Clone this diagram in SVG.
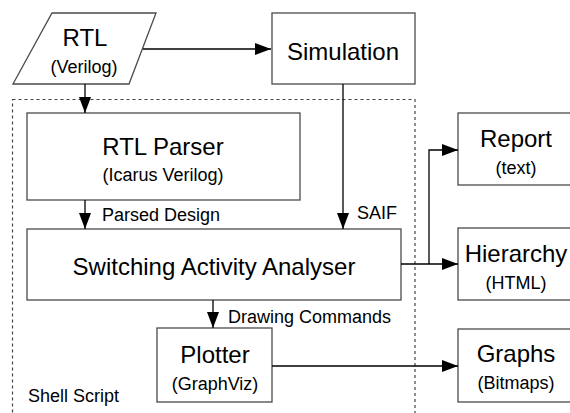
<svg xmlns="http://www.w3.org/2000/svg" width="570" height="413" viewBox="0 0 570 413">
<style>
.box{fill:#fff;stroke:#4a4a4a;stroke-width:1.3}
.edge{fill:none;stroke:#000;stroke-width:1.3}
.big{font-family:"Liberation Sans",Arial,sans-serif;font-size:24px;fill:#000;text-anchor:middle}
.small{font-family:"Liberation Sans",Arial,sans-serif;font-size:18px;fill:#000;text-anchor:middle}
.lbl{font-family:"Liberation Sans",Arial,sans-serif;font-size:18px;fill:#000}
</style>
<defs>
<marker id="arr" markerUnits="userSpaceOnUse" markerWidth="17" markerHeight="12" refX="16" refY="6" orient="auto">
<path d="M0,0 L16,6 L0,12 z" fill="#000"/>
</marker>
</defs>
<rect x="0" y="0" width="570" height="413" fill="#fff"/>
<g id="shell">
<rect x="12.5" y="99.5" width="402.5" height="330" fill="none" stroke="#444" stroke-width="1.2" stroke-dasharray="3,3"/>
<text class="lbl" x="28" y="402">Shell Script</text>
</g>
<g id="rtl">
<polygon class="box" points="52,13 156,13 129,84 13,84"/>
<text class="big" x="85" y="46">RTL</text>
<text class="small" x="84" y="73">(Verilog)</text>
</g>
<g id="simulation">
<rect class="box" x="272" y="13" width="143" height="71"/>
<text class="big" x="343" y="60">Simulation</text>
</g>
<g id="parser">
<rect class="box" x="27" y="113" width="273" height="87"/>
<text class="big" x="163" y="155">RTL Parser</text>
<text class="small" x="163" y="181">(Icarus Verilog)</text>
</g>
<g id="analyser">
<rect class="box" x="27" y="229" width="374" height="71"/>
<text class="big" x="214" y="275">Switching Activity Analyser</text>
</g>
<g id="plotter">
<rect class="box" x="157" y="328" width="115" height="74"/>
<text class="big" x="215" y="363">Plotter</text>
<text class="small" x="215" y="390">(GraphViz)</text>
</g>
<g id="report">
<rect class="box" x="458" y="113" width="116" height="72"/>
<text class="big" x="516" y="147">Report</text>
<text class="small" x="516" y="174">(text)</text>
</g>
<g id="hierarchy">
<rect class="box" x="458" y="228" width="116" height="72"/>
<text class="big" x="516" y="262">Hierarchy</text>
<text class="small" x="516" y="289">(HTML)</text>
</g>
<g id="graphs">
<rect class="box" x="458" y="329" width="116" height="73"/>
<text class="big" x="516" y="362">Graphs</text>
<text class="small" x="516" y="389">(Bitmaps)</text>
</g>
<g id="connectors">
<path class="edge" d="M143,49 H271" marker-end="url(#arr)"/>
<path class="edge" d="M85,84 V113" marker-end="url(#arr)"/>
<path class="edge" d="M85,200 V229" marker-end="url(#arr)"/>
<text class="lbl" x="102" y="221">Parsed Design</text>
<path class="edge" d="M343,84 V229" marker-end="url(#arr)"/>
<text class="lbl" x="357" y="219">SAIF</text>
<path class="edge" d="M213,300 V328" marker-end="url(#arr)"/>
<text class="lbl" x="228" y="323">Drawing Commands</text>
<path class="edge" d="M401,264 H458" marker-end="url(#arr)"/>
<path class="edge" d="M429,264 V150 H458" marker-end="url(#arr)"/>
<path class="edge" d="M272,366 H458" marker-end="url(#arr)"/>
</g>
</svg>
